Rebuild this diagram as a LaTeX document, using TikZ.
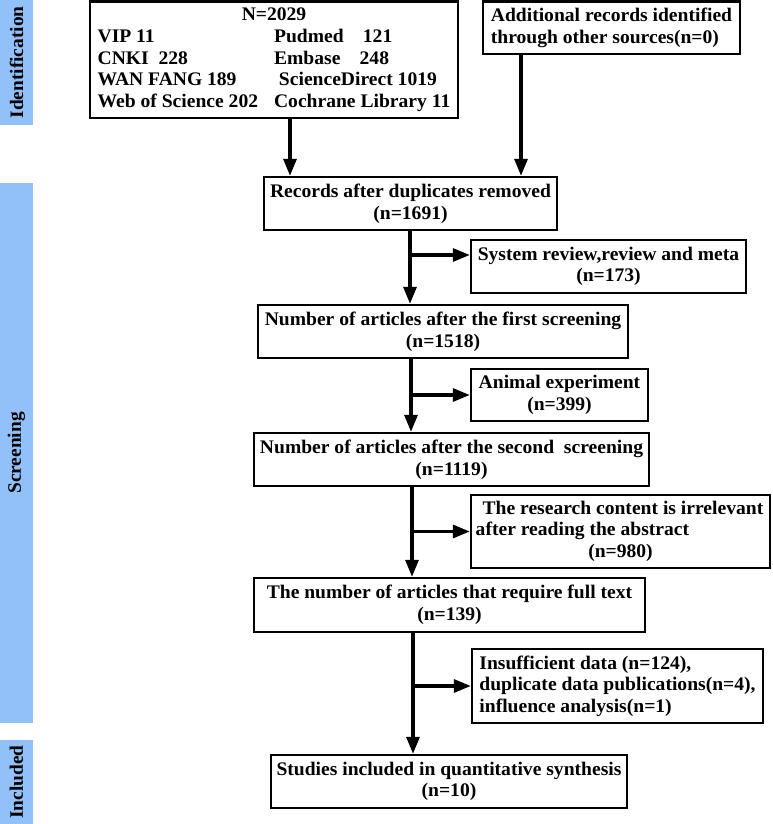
\documentclass[tikz,border=0pt]{standalone}
\usepackage{fontspec}
\setmainfont{Liberation Serif}[FakeStretch=1.02]
\usetikzlibrary{arrows.meta,calc}
\definecolor{lane}{RGB}{146,192,248}
\begin{document}
\begin{tikzpicture}[x=1pt,y=-1pt,
  box/.style={draw, line width=2.4pt, inner sep=0pt, align=center, font=\fontsize{19.2}{21.6}\selectfont\bfseries},
  arr/.style={line width=3.2pt, -{Triangle[length=17pt,width=13pt]}},
  lanebox/.style={fill=lane, draw=none, rotate=90, inner sep=0pt, minimum height=33pt, font=\fontsize{19}{20}\selectfont\bfseries}]
\useasboundingbox (0,0) rectangle (773,824);
% lanes
\node[lanebox, minimum width=125pt] (laneI) at (16.5,62.5) {Identification};
\node[lanebox, minimum width=540pt] (laneS) at (16.5,453) {Screening};
\node[lanebox, minimum width=84pt] (laneN) at (16.5,782) {Included};
% boxes
\node[box, minimum width=368pt, minimum height=116.5pt] (b1) at (274,59.75) {%
\begin{tabular}{@{}l@{\hspace{16pt}}l@{}}
\multicolumn{2}{c}{N=2029}\\
VIP 11 & Pudmed\quad 121\\
CNKI\ \ 228 & Embase\quad 248\\
WAN FANG 189 & \ ScienceDirect 1019\\
Web of Science 202 & Cochrane Library 11
\end{tabular}};
\node[box, align=left, minimum width=257pt, minimum height=52.5pt] (b2) at (611.5,27.75) {Additional records identified\\through other sources(n=0)};
\node[box, minimum width=293pt, minimum height=53pt] (b3) at (410.5,203.5) {Records after duplicates removed\\(n=1691)};
\node[box, minimum width=275pt, minimum height=53pt] (b5) at (608.5,266.5) {System review,review and meta\\(n=173)};
\node[box, minimum width=370pt, minimum height=53pt] (b4) at (443,331.5) {Number of articles after the first screening\\(n=1518)};
\node[box, minimum width=177pt, minimum height=52pt] (b6) at (559.5,395) {Animal experiment\\(n=399)};
\node[box, minimum width=395pt, minimum height=53pt] (b7) at (451.5,459.5) {Number of articles after the second\ \ screening\\(n=1119)};
\node[box, minimum width=299pt, minimum height=73pt] (b8) at (620.5,531.5) {%
\begin{tabular}{@{}l@{}}
\multicolumn{1}{c}{\ The research content is irrelevant}\\
\hspace{4pt}after reading the abstract\\
\multicolumn{1}{c}{(n=980)}
\end{tabular}};
\node[box, minimum width=391pt, minimum height=54pt] (b9) at (449.5,605) {The number of articles that require full text\\(n=139)};
\node[box, align=left, minimum width=291pt, minimum height=74pt] (b10) at (617.5,686) {Insufficient data (n=124),\\duplicate data publications(n=4),\\influence analysis(n=1)};
\node[box, minimum width=356pt, minimum height=53pt] (b11) at (449,781.5) {Studies included in quantitative synthesis\\(n=10)};
% connectors
\coordinate (v1) at (290,0);
\coordinate (v2) at (521,0);
\coordinate (v3) at (410,0);
\coordinate (v4) at (411,0);
\coordinate (v5) at (412,0);
\coordinate (v6) at (413,0);
\coordinate (j1) at (410,255);
\draw[arr] (b1.south -| v1) -- (b3.north -| v1);
\draw[arr] (b2.south -| v2) -- (b3.north -| v2);
\draw[arr] (b3.south -| v3) -- (b4.north -| v3);
\draw[arr] (j1) -- (b5.west |- j1);
\draw[arr] (b4.south -| v4) -- (b7.north -| v4);
\draw[arr] (v4 |- b6.west) -- (b6.west);
\draw[arr] (b7.south -| v5) -- (b9.north -| v5);
\draw[arr] (v5 |- b8.west) -- (b8.west);
\draw[arr] (b9.south -| v6) -- (b11.north -| v6);
\draw[arr] (v6 |- b10.west) -- (b10.west);
\end{tikzpicture}
\end{document}
